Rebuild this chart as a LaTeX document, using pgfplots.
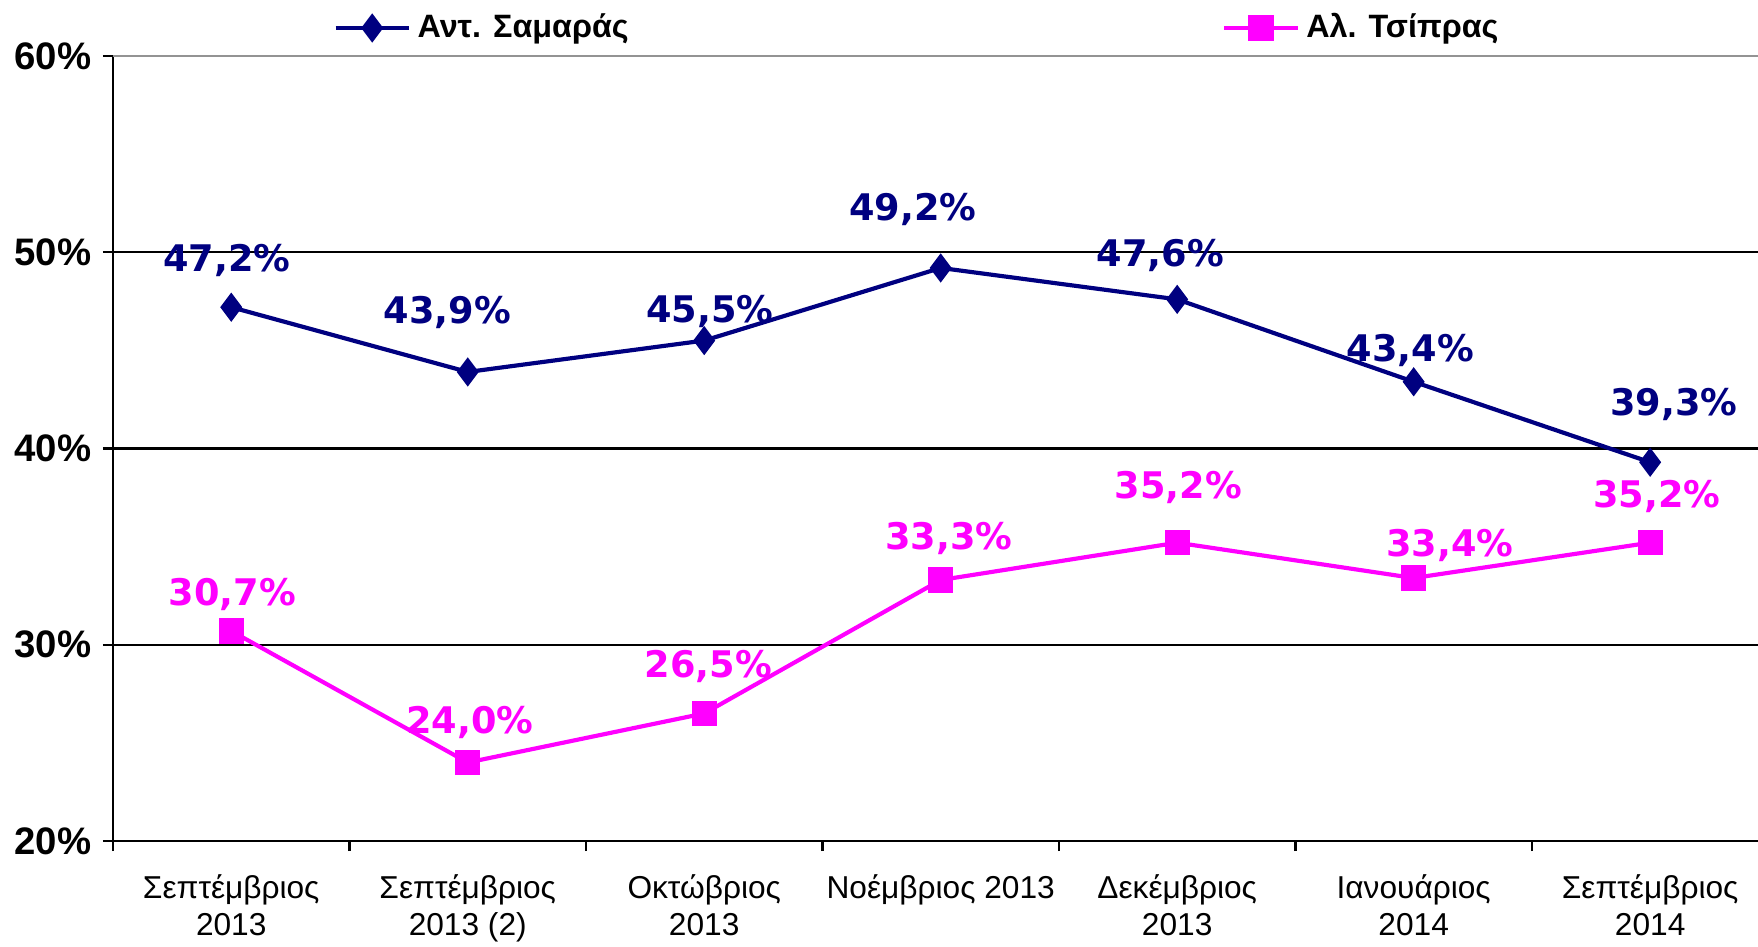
\documentclass[border=0pt]{standalone}
\usepackage{fontspec}
\setmainfont{Liberation Sans}
\newfontfamily\valfont{DejaVu Sans}
\usepackage{pgfplots}
\usepackage{pgfplotstable}
\pgfplotsset{compat=1.18}
\definecolor{sam}{HTML}{000080}
\definecolor{tsi}{HTML}{FF00FF}

% x y label-shift (pt)
\pgfplotstableread{
x y dx dy
0 47.2 -1.3 14.1
1 43.9 -6.1 17.8
2 45.5 1.7 8.7
3 49.2 -8.4 17.5
4 47.6 -5.0 13.1
5 43.4 -1.0 9.4
6 39.3 7.1 17.2
}\samaras

\pgfplotstableread{
x y dx dy
0 30.7 0.3 11.1
1 24.0 0.7 12.1
2 26.5 1.3 14.1
3 33.3 2.4 12.4
4 35.2 0.3 16.5
5 33.4 10.8 9.8
6 35.2 2.0 13.8
}\tsipras

\begin{document}
\begin{tikzpicture}
\begin{axis}[
    name=ax,
    scale only axis,
    width=493.5pt, height=235.5pt,
    xmin=-0.5, xmax=6.456,
    ymin=20, ymax=60,
    axis lines=left,
    axis line style={-, black, line width=0.8pt},
    clip=false,
    /pgf/number format/assume math mode=true,
    xtick={0,...,6},
    xticklabels={{Σεπτέμβριος\\2013},{Σεπτέμβριος\\2013 (2)},{Οκτώβριος\\2013},{Νοέμβριος 2013},{Δεκέμβριος\\2013},{Ιανουάριος\\2014},{Σεπτέμβριος\\2014}},
    x tick label style={align=center, font=\fontsize{9.5}{11.2}\selectfont, yshift=-3.6pt},
    major x tick style={draw=none},
    minor xtick={-0.5,0.5,...,5.5},
    minor x tick style={black, line width=0.7pt},
    minor tick length=3pt,
    tick align=outside,
    ytick={20,30,40,50},
    yticklabels={20\%,30\%,40\%,50\%},
    extra y ticks={60},
    extra y tick labels={60\%},
    extra y tick style={major grid style={gray!85, line width=0.8pt}},
    y tick label style={font=\fontsize{11.5}{12}\selectfont\bfseries},
    major y tick style={black, line width=0.7pt},
    major tick length=3pt,
    ymajorgrids=true,
    major grid style={black, line width=0.7pt},
    legend columns=2,
    legend style={at={(0.1336,1)}, anchor=west, yshift=8.4pt, draw=none, fill=none,
        inner sep=0pt, font=\fontsize{9.7}{12}\selectfont\bfseries,
        /tikz/every even column/.append style={column sep=176pt}},
    legend image code/.code={\draw[mark repeat=2, mark phase=2] plot coordinates {(0pt,0pt) (11pt,0pt) (22pt,0pt)};},
    nodes near coords={\pgfmathprintnumber[use comma,fixed,fixed zerofill,precision=1]{\pgfplotspointmeta}\%},
    point meta=y,
    visualization depends on={\thisrow{dx} \as \dx},
    visualization depends on={\thisrow{dy} \as \dy},
    every node near coord/.append style={anchor=center, xshift=\dx pt, yshift=\dy pt,
        font=\valfont\fontsize{11}{13}\selectfont\bfseries},
]
\addplot[color=sam, line width=1.25pt, mark=diamond*, mark size=3.9pt,
    mark options={line width=0.6pt},
    every node near coord/.append style={text=sam}] table[x=x, y=y] {\samaras};
\addlegendentry{Αντ. Σαμαράς}
\addplot[color=tsi, line width=1.25pt, mark=square*, mark size=3.5pt,
    mark options={line width=0.6pt},
    every node near coord/.append style={text=tsi}] table[x=x, y=y] {\tsipras};
\addlegendentry{Αλ. Τσίπρας}
\end{axis}
\pgfresetboundingbox
\path ([shift={(-33.9pt,-31.5pt)}]ax.south west) rectangle ([shift={(0pt,16.8pt)}]ax.north east);
\end{tikzpicture}
\end{document}
